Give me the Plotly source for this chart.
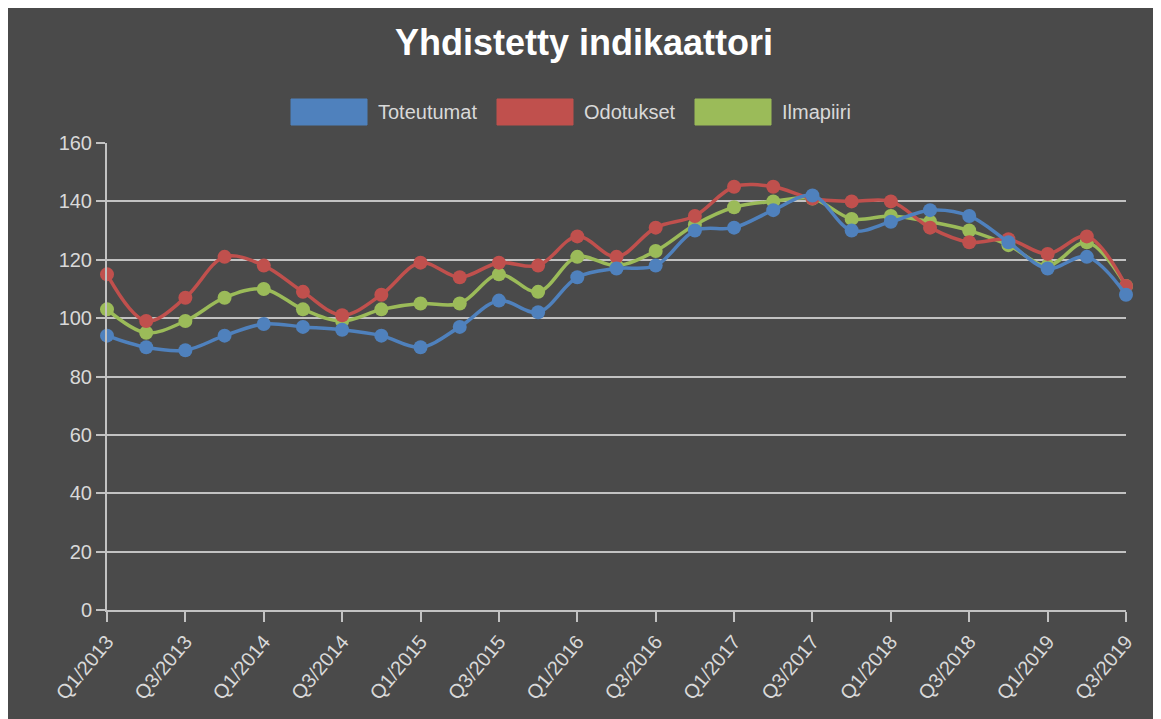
import plotly.graph_objects as go

categories = [
    "Q1/2013", "Q2/2013", "Q3/2013", "Q4/2013",
    "Q1/2014", "Q2/2014", "Q3/2014", "Q4/2014",
    "Q1/2015", "Q2/2015", "Q3/2015", "Q4/2015",
    "Q1/2016", "Q2/2016", "Q3/2016", "Q4/2016",
    "Q1/2017", "Q2/2017", "Q3/2017", "Q4/2017",
    "Q1/2018", "Q2/2018", "Q3/2018", "Q4/2018",
    "Q1/2019", "Q2/2019", "Q3/2019",
]

toteutumat = [94, 90, 89, 94, 98, 97, 96, 94, 90, 97, 106, 102,
              114, 117, 118, 130, 131, 137, 142, 130, 133, 137, 135,
              126, 117, 121, 108]
odotukset = [115, 99, 107, 121, 118, 109, 101, 108, 119, 114, 119, 118,
             128, 121, 131, 135, 145, 145, 141, 140, 140, 131, 126,
             127, 122, 128, 111]
ilmapiiri = [103, 95, 99, 107, 110, 103, 99, 103, 105, 105, 115, 109,
             121, 118, 123, 132, 138, 140, 141, 134, 135, 133, 130,
             125, 118, 126, 111]

series_names = ["Toteutumat", "Odotukset", "Ilmapiiri"]
series_colors = ["#4F81BD", "#C0504D", "#9BBB59"]
series_values = [toteutumat, odotukset, ilmapiiri]

tick_labels = categories[::2]

# page body has an 8px margin; convert reference page pixels to figure pixels
OFF = 8
W, H = 1161, 719
L, R, T, B = 107 - OFF, 1126 - OFF, 143 - OFF, 610 - OFF
BG = "#4a4a4a"
GRID = "#c2c2c2"
TXT = "#d9d9d9"
FONT = "Liberation Sans, Arial, sans-serif"


def px(x):
    return (x - OFF - L) / (R - L)


def py(y):
    return (B - (y - OFF)) / (B - T)


fig = go.Figure()
# first series drawn on top (added last)
for name, vals, col in reversed(list(zip(series_names, series_values, series_colors))):
    fig.add_trace(go.Scatter(
        x=categories, y=vals, name=name, mode="lines+markers",
        line=dict(color=col, width=3.5, shape="spline", smoothing=1.0),
        marker=dict(color=col, size=14, line=dict(color=col, width=0)),
        cliponaxis=False, showlegend=False,
    ))

shapes = [dict(type="rect", xref="paper", yref="paper", layer="below",
               x0=px(OFF - 2), x1=px(W + OFF + 2), y0=py(OFF - 2), y1=py(H + OFF + 2),
               fillcolor=BG, line=dict(width=0))]
annotations = []

legend_boxes = [(291, 367), (497, 573), (695, 771)]
for (x0, x1), name, col in zip(legend_boxes, series_names, series_colors):
    shapes.append(dict(type="rect", xref="paper", yref="paper",
                       x0=px(x0), x1=px(x1), y0=py(125), y1=py(99),
                       fillcolor=col, line=dict(color=col, width=1)))
    annotations.append(dict(xref="paper", yref="paper", x=px(x1 + 9), y=py(112),
                            text=name, showarrow=False, xanchor="left", yanchor="middle",
                            font=dict(family=FONT, size=20, color=TXT)))

annotations.append(dict(xref="paper", yref="paper", x=px(584), y=py(43),
                        text="<b>Yhdistetty indikaattori</b>", showarrow=False,
                        xanchor="center", yanchor="middle",
                        font=dict(family=FONT, size=36, color="white")))

fig.update_layout(
    width=W, height=H,
    paper_bgcolor="white", plot_bgcolor=BG,
    margin=dict(l=L, r=W - R, t=T, b=H - B, pad=0),
    shapes=shapes, annotations=annotations,
    showlegend=False,
    font=dict(family=FONT, color=TXT),
)

fig.update_xaxes(
    type="category", range=[0, len(categories) - 1],
    tickmode="array", tickvals=tick_labels, ticktext=tick_labels,
    tickangle=-50, tickfont=dict(size=20, color=TXT, family=FONT),
    ticks="outside", ticklen=10, tickcolor=GRID, tickwidth=2,
    showgrid=False, showline=True, linecolor=GRID, linewidth=2,
    zeroline=False,
)
fig.update_yaxes(
    range=[0, 160], dtick=20, tick0=0,
    tickfont=dict(size=20, color=TXT, family=FONT),
    ticks="outside", ticklen=9, tickcolor=GRID, tickwidth=2,
    showgrid=True, gridcolor=GRID, gridwidth=2,
    showline=True, linecolor=GRID, linewidth=2, zeroline=False,
)

fig.write_html("out.html")
